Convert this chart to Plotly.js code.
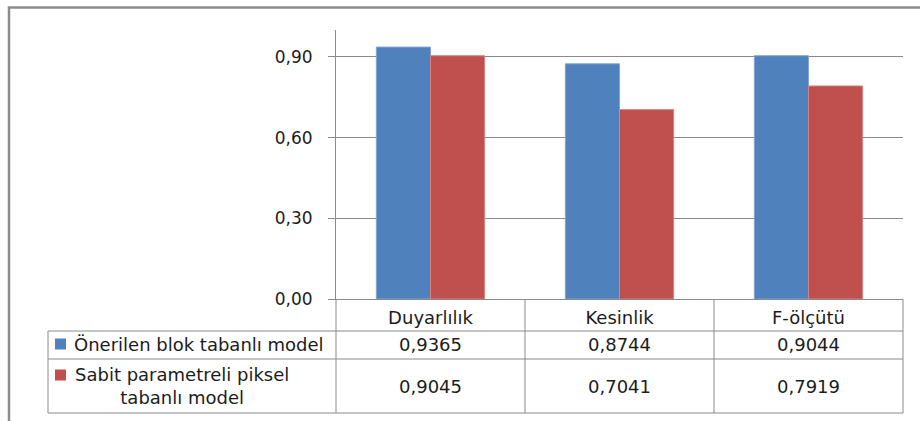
<!DOCTYPE html>
<html>
<head>
<meta charset="utf-8">
<script src="https://cdn.plot.ly/plotly-3.0.1.min.js"></script>
<style>
  html, body { margin: 0; padding: 0; background: #fff; }
  #chart { width: 920px; height: 421px; }
</style>
</head>
<body>
<div id="chart"></div>
<script>
// Metrics shown on the category axis and in the data table header
const categories = ['Duyarlılık', 'Kesinlik', 'F-ölçütü'];

// Series names and values
const seriesNames = ['Önerilen blok tabanlı model', 'Sabit parametreli piksel<br>tabanlı model'];
const blockModel = [0.9365, 0.8744, 0.9044];
const pixelModel = [0.9045, 0.7041, 0.7919];

// Value axis ticks
const yTickVals = [0, 0.3, 0.6, 0.9];
const yTickText = ['0,00', '0,30', '0,60', '0,90'];

const seriesValues = [blockModel, pixelModel];
const seriesColors = ['#4F81BD', '#C0504D'];
const seriesEdge = ['#82A5D3', '#D48583'];

const W = 920, H = 421;
const M = { l: 336, r: 17, t: 30, b: 122 };
const plotW = W - M.l - M.r, plotH = H - M.t - M.b;
// pixel -> paper helpers for the table drawn under the plot area
const px = x => (x - M.l) / plotW;
const py = y => (H - M.b - y) / plotH;

const FONT = 'DejaVu Sans, sans-serif';
const FS = 18;
const TXT = '#1c1c1c';
const GRID = '#8a8a8a';
const fmt = v => v.toFixed(4).replace('.', ',');

const traces = seriesValues.map((vals, i) => ({
  type: 'bar',
  x: categories,
  y: vals,
  name: seriesNames[i],
  marker: { color: seriesColors[i], line: { color: seriesEdge[i], width: 1 } },
  hoverinfo: 'skip'
}));

// Data table grid
const shapes = [];
const line = (x0, y0, x1, y1, w) => shapes.push({
  type: 'line', xref: 'paper', yref: 'paper',
  x0: px(x0), y0: py(y0), x1: px(x1), y1: py(y1),
  line: { color: GRID, width: w || 1 }
});
const colX = [336, 525, 714, 903];
const rowY = [331, 359, 413];
rowY.forEach(y => line(48, y, 903, y));
line(48, 331, 48, 413);
colX.forEach(x => line(x, 299, x, 413));
// Outer chart frame (runs off the right and bottom edges)
shapes.push({
  type: 'rect', xref: 'paper', yref: 'paper',
  x0: px(9), y0: py(7.5), x1: px(940), y1: py(440),
  line: { color: '#8c8c8c', width: 2.5 }
});
// Legend keys inside the table
const keyY = [344, 375];
keyY.forEach((cy, i) => shapes.push({
  type: 'rect', xref: 'paper', yref: 'paper',
  x0: px(55), x1: px(66), y0: py(cy - 5.5), y1: py(cy + 5.5),
  fillcolor: seriesColors[i], line: { width: 0 }
}));

// Table text
const annotations = [];
const rowCenters = [345, 386];
seriesValues.forEach((vals, r) => {
  vals.forEach((v, c) => annotations.push({
    xref: 'paper', yref: 'paper', x: px((colX[c] + colX[c + 1]) / 2), y: py(rowCenters[r]),
    text: fmt(v), showarrow: false, xanchor: 'center', yanchor: 'middle',
    font: { family: FONT, size: FS, color: TXT }
  }));
});
annotations.push({
  xref: 'paper', yref: 'paper', x: px(72), y: py(345),
  text: seriesNames[0], showarrow: false, xanchor: 'left', yanchor: 'middle',
  font: { family: FONT, size: FS, color: TXT }
});
annotations.push({
  xref: 'paper', yref: 'paper', x: px(182), y: py(386),
  text: seriesNames[1], showarrow: false, xanchor: 'center', yanchor: 'middle', align: 'center',
  font: { family: FONT, size: FS, color: TXT }
});

const layout = {
  width: W, height: H,
  margin: M,
  paper_bgcolor: '#fff', plot_bgcolor: '#fff',
  barmode: 'group', bargap: 0.427, bargroupgap: 0,
  showlegend: false,
  xaxis: {
    type: 'category', showgrid: false, zeroline: false,
    showline: true, linecolor: GRID, linewidth: 1,
    ticks: '', ticklabelstandoff: 2,
    tickfont: { family: FONT, size: FS, color: TXT }
  },
  yaxis: {
    range: [0, 1], tickvals: yTickVals, ticktext: yTickText,
    showgrid: true, gridcolor: GRID, gridwidth: 1,
    zeroline: false, showline: true, linecolor: GRID, linewidth: 1,
    ticks: 'outside', ticklen: 7, tickcolor: GRID,
    ticklabelstandoff: 12,
    tickfont: { family: FONT, size: 17, color: TXT }
  },
  shapes: shapes,
  annotations: annotations
};

Plotly.newPlot('chart', traces, layout, { staticPlot: true, displayModeBar: false });
</script>
</body>
</html>
